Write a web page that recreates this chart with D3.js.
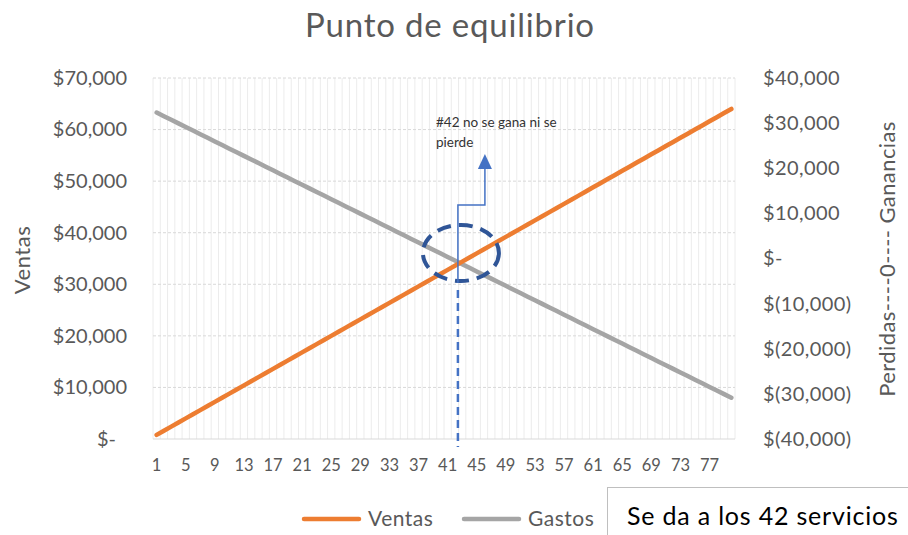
<!DOCTYPE html>
<html>
<head>
<meta charset="utf-8">
<script src="https://cdn.jsdelivr.net/npm/d3@7"></script>
<style>
  body { margin: 0; background: #fff; }
  text { font-family: Lato, "Open Sans", sans-serif; }
</style>
</head>
<body>
<svg id="chart" width="908" height="535"></svg>
<script>
// datos
const categories = d3.range(1, 81);
const ventas = [800, 1600, 2400, 3200, 4000, 4800, 5600, 6400, 7200, 8000,
  8800, 9600, 10400, 11200, 12000, 12800, 13600, 14400, 15200, 16000,
  16800, 17600, 18400, 19200, 20000, 20800, 21600, 22400, 23200, 24000,
  24800, 25600, 26400, 27200, 28000, 28800, 29600, 30400, 31200, 32000,
  32800, 33600, 34400, 35200, 36000, 36800, 37600, 38400, 39200, 40000,
  40800, 41600, 42400, 43200, 44000, 44800, 45600, 46400, 47200, 48000,
  48800, 49600, 50400, 51200, 52000, 52800, 53600, 54400, 55200, 56000,
  56800, 57600, 58400, 59200, 60000, 60800, 61600, 62400, 63200, 64000];
const gastos = [63300, 62600, 61900, 61200, 60500, 59800, 59100, 58400, 57700, 57000,
  56300, 55600, 54900, 54200, 53500, 52800, 52100, 51400, 50700, 50000,
  49300, 48600, 47900, 47200, 46500, 45800, 45100, 44400, 43700, 43000,
  42300, 41600, 40900, 40200, 39500, 38800, 38100, 37400, 36700, 36000,
  35300, 34600, 33900, 33200, 32500, 31800, 31100, 30400, 29700, 29000,
  28300, 27600, 26900, 26200, 25500, 24800, 24100, 23400, 22700, 22000,
  21300, 20600, 19900, 19200, 18500, 17800, 17100, 16400, 15700, 15000,
  14300, 13600, 12900, 12200, 11500, 10800, 10100, 9400, 8700, 8000];
const leftTicks = [0, 10000, 20000, 30000, 40000, 50000, 60000, 70000];
const rightTicks = [-40000, -30000, -20000, -10000, 0, 10000, 20000, 30000, 40000];
const xTickLabels = categories.filter(c => (c - 1) % 4 === 0);
const puntoEquilibrio = 42;

const svg = d3.select("#chart");
const pLeft = 153, pRight = 735, pTop = 78, pBottom = 439;
const textColor = "#595959";

const x = d3.scaleBand().domain(categories).range([pLeft, pRight]);
const yL = d3.scaleLinear().domain([0, 70000]).range([pBottom, pTop]);
const yR = d3.scaleLinear().domain([-40000, 40000]).range([pBottom, pTop]);
const cx = c => x(c) + x.bandwidth() / 2;

// lineas verticales por categoria
svg.append("g")
  .selectAll("line")
  .data(categories.concat([null]))
  .enter()
  .append("line")
  .attr("x1", d => d === null ? pRight : x(d))
  .attr("x2", d => d === null ? pRight : x(d))
  .attr("y1", pTop)
  .attr("y2", pBottom)
  .attr("stroke", "#ececec")
  .attr("stroke-width", 1);

// lineas horizontales punteadas
svg.append("g")
  .selectAll("line")
  .data(leftTicks.filter(d => d > 0))
  .enter()
  .append("line")
  .attr("x1", pLeft)
  .attr("x2", pRight)
  .attr("y1", d => yL(d))
  .attr("y2", d => yL(d))
  .attr("stroke", "#d9d9d9")
  .attr("stroke-dasharray", "3,2");

// eje x
svg.append("line")
  .attr("x1", pLeft).attr("x2", pRight)
  .attr("y1", pBottom).attr("y2", pBottom)
  .attr("stroke", "#d9d9d9");

const money = v => {
  if (v === 0) return "$-";
  const s = d3.format(",")(Math.abs(v));
  return v < 0 ? "$(" + s + ")" : "$" + s;
};

const axL = svg.append("g")
  .attr("transform", `translate(${pLeft},0)`)
  .call(d3.axisLeft(yL).tickValues(leftTicks).tickSize(0).tickPadding(26).tickFormat(money));
axL.select(".domain").remove();
axL.selectAll("text").filter(d => d === 0).attr("dx", -11);

const axR = svg.append("g")
  .attr("transform", `translate(${pRight},0)`)
  .call(d3.axisRight(yR).tickValues(rightTicks).tickSize(0).tickPadding(28).tickFormat(money));
axR.select(".domain").remove();

const axB = svg.append("g")
  .attr("transform", `translate(0,${pBottom})`)
  .call(d3.axisBottom(x).tickValues(xTickLabels).tickSize(0).tickPadding(20));
axB.select(".domain").remove();

svg.selectAll(".tick text")
  .attr("fill", textColor)
  .style("font-family", "Lato, sans-serif")
  .style("font-size", "20px");
axR.selectAll("text").style("letter-spacing", "0.4px");
axB.selectAll("text").style("font-size", "16.5px");

// series
const line = vals => d3.line()
  .x((d, i) => cx(categories[i]))
  .y(d => yL(d))(vals);

svg.append("path")
  .attr("d", line(gastos))
  .attr("fill", "none")
  .attr("stroke", "#a5a5a5")
  .attr("stroke-width", 4.5)
  .attr("stroke-linecap", "round");

svg.append("path")
  .attr("d", line(ventas))
  .attr("fill", "none")
  .attr("stroke", "#ed7d31")
  .attr("stroke-width", 4.5)
  .attr("stroke-linecap", "round");

// anotaciones
const px = cx(puntoEquilibrio) + 3;

svg.append("ellipse")
  .attr("cx", px + 3)
  .attr("cy", 253)
  .attr("rx", 38)
  .attr("ry", 28)
  .attr("fill", "none")
  .attr("stroke", "#2f5597")
  .attr("stroke-width", 4)
  .attr("stroke-dasharray", "14,8");

svg.append("line")
  .attr("x1", px).attr("x2", px)
  .attr("y1", 290).attr("y2", 447)
  .attr("stroke", "#4472c4")
  .attr("stroke-width", 2.5)
  .attr("stroke-dasharray", "8,5");

svg.append("path")
  .attr("d", `M${px},283 V205 H${px + 27} V168`)
  .attr("fill", "none")
  .attr("stroke", "#4472c4")
  .attr("stroke-width", 1.5);

svg.append("path")
  .attr("d", `M${px + 27},154 L${px + 20},169 L${px + 34},169 Z`)
  .attr("fill", "#4472c4");

svg.append("text")
  .attr("x", 436).attr("y", 127)
  .attr("fill", "#333")
  .style("font-size", "13.5px")
  .text("#42 no se gana ni se");
svg.append("text")
  .attr("x", 436).attr("y", 147)
  .attr("fill", "#333")
  .style("font-size", "13.5px")
  .text("pierde");

// titulos
svg.append("text")
  .attr("x", 450).attr("y", 37)
  .attr("text-anchor", "middle")
  .attr("fill", textColor)
  .style("font-size", "33px")
  .style("letter-spacing", "0.8px")
  .text("Punto de equilibrio");

svg.append("text")
  .attr("transform", "translate(30,260) rotate(-90)")
  .attr("text-anchor", "middle")
  .attr("fill", textColor)
  .style("font-size", "22px")
  .style("letter-spacing", "0.5px")
  .text("Ventas");

svg.append("text")
  .attr("transform", "translate(895,259) rotate(-90)")
  .attr("text-anchor", "middle")
  .attr("fill", textColor)
  .style("font-size", "22px")
  .style("letter-spacing", "0.4px")
  .text("Perdidas----0---- Ganancias");

// leyenda
const legend = [
  {name: "Ventas", color: "#ed7d31", x: 304},
  {name: "Gastos", color: "#a5a5a5", x: 464}
];
const lg = svg.append("g").selectAll("g").data(legend).enter().append("g")
  .attr("transform", d => `translate(${d.x},519)`);
lg.append("line")
  .attr("x1", 0).attr("x2", 55)
  .attr("stroke", d => d.color)
  .attr("stroke-width", 4.5)
  .attr("stroke-linecap", "round");
lg.append("text")
  .attr("x", 64).attr("dy", "0.35em")
  .attr("fill", textColor)
  .style("font-size", "21px")
  .style("letter-spacing", "0.5px")
  .text(d => d.name);

// cuadro de texto
svg.append("rect")
  .attr("x", 607.5).attr("y", 487.5)
  .attr("width", 310).attr("height", 60)
  .attr("fill", "#fff")
  .attr("stroke", "#bfbfbf");
svg.append("text")
  .attr("x", 627).attr("y", 516)
  .attr("dy", "0.35em")
  .attr("fill", "#000")
  .style("font-size", "25px")
  .style("letter-spacing", "0.8px")
  .text("Se da a los 42 servicios");
</script>
</body>
</html>
